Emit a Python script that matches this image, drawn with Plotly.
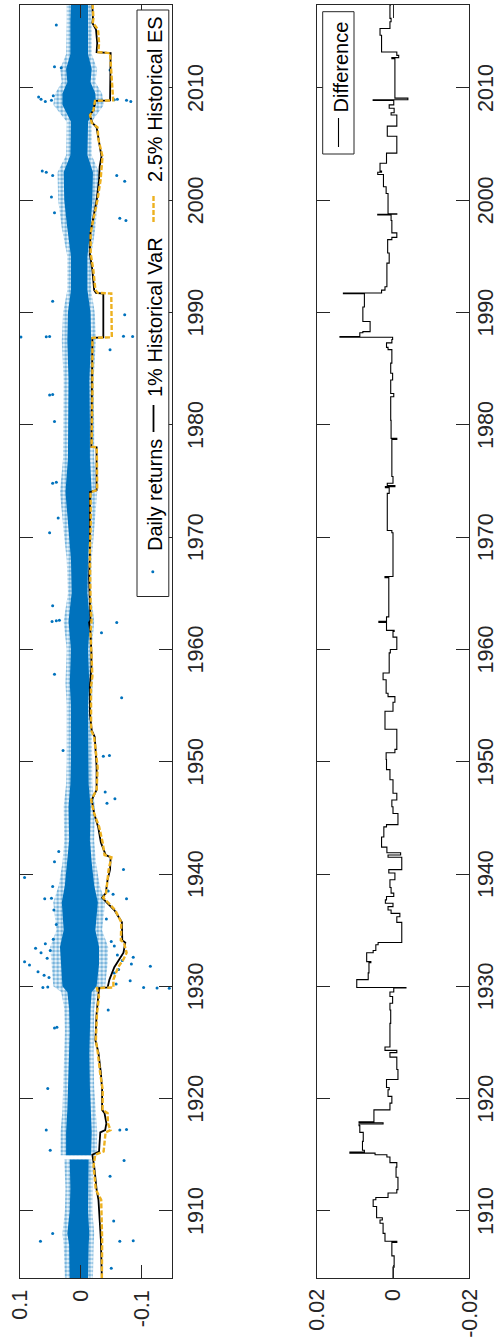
import numpy as np
import plotly.graph_objects as go

# ---------------------------------------------------------------------------
# Dow Jones daily returns, 1904-2017: body of the return cloud
# (years, upper / lower edge of the dense core and of the sparser fringe)
# ---------------------------------------------------------------------------
band_year = [1904.0, 1907.0, 1908.0, 1910.0, 1912.0, 1914.58,
             1914.95, 1917.0, 1919.0, 1921.0, 1924.0, 1926.0, 1928.0, 1929.5,
             1930.0, 1932.0, 1933.5, 1935.0, 1937.5, 1939.0, 1941.0, 1943.0,
             1946.0, 1948.0, 1950.0, 1955.0, 1957.0, 1960.0, 1962.5, 1965.0,
             1968.0, 1970.5, 1974.0, 1977.0, 1980.0, 1984.0, 1987.5, 1990.0,
             1992.0, 1995.0, 1997.5, 2000.0, 2002.5, 2004.0, 2007.0, 2008.5,
             2009.5, 2010.5, 2011.7, 2013.0, 2016.0, 2017.4]
core_hi = [0.018, 0.019, 0.022, 0.018, 0.017, 0.018,
           0.024, 0.024, 0.022, 0.021, 0.020, 0.018, 0.019, 0.022,
           0.030, 0.032, 0.034, 0.028, 0.031, 0.026, 0.022, 0.019,
           0.020, 0.017, 0.016, 0.016, 0.018, 0.016, 0.020, 0.015,
           0.016, 0.020, 0.025, 0.021, 0.021, 0.020, 0.022, 0.021,
           0.016, 0.016, 0.022, 0.027, 0.028, 0.017, 0.016, 0.030,
           0.030, 0.022, 0.024, 0.017, 0.017, 0.016]
core_lo = [-0.012, -0.013, -0.014, -0.012, -0.012, -0.013,
           -0.017, -0.018, -0.016, -0.015, -0.014, -0.015, -0.016, -0.018,
           -0.026, -0.030, -0.030, -0.024, -0.028, -0.022, -0.018, -0.015,
           -0.016, -0.013, -0.012, -0.012, -0.014, -0.012, -0.015, -0.011,
           -0.012, -0.015, -0.018, -0.015, -0.015, -0.014, -0.017, -0.016,
           -0.011, -0.011, -0.016, -0.019, -0.020, -0.011, -0.012, -0.025,
           -0.024, -0.016, -0.018, -0.012, -0.012, -0.012]
fringe_hi = [0.026, 0.028, 0.030, 0.026, 0.025, 0.027,
             0.033, 0.033, 0.030, 0.029, 0.028, 0.026, 0.027, 0.032,
             0.045, 0.048, 0.050, 0.040, 0.045, 0.036, 0.030, 0.027,
             0.028, 0.024, 0.023, 0.023, 0.025, 0.023, 0.028, 0.021,
             0.023, 0.028, 0.034, 0.029, 0.029, 0.028, 0.031, 0.029,
             0.022, 0.022, 0.031, 0.037, 0.038, 0.024, 0.023, 0.045,
             0.042, 0.031, 0.034, 0.024, 0.023, 0.023]
fringe_lo = [-0.020, -0.021, -0.022, -0.019, -0.019, -0.020,
             -0.026, -0.027, -0.024, -0.022, -0.021, -0.021, -0.022, -0.027,
             -0.040, -0.044, -0.045, -0.035, -0.040, -0.031, -0.025, -0.022,
             -0.023, -0.019, -0.018, -0.018, -0.020, -0.018, -0.022, -0.017,
             -0.018, -0.022, -0.027, -0.022, -0.022, -0.021, -0.025, -0.023,
             -0.017, -0.017, -0.024, -0.028, -0.030, -0.018, -0.018, -0.038,
             -0.035, -0.024, -0.027, -0.018, -0.018, -0.018]
# NYSE closure of 1914: no returns between these dates
closure = (1914.6, 1914.9)

# isolated large daily returns (year, return)
out_year = [2015.6, 2011.9, 2011.8, 2009.2, 2009.0, 2008.9, 2008.9, 2008.8,
            2011.6, 2002.5, 2002.6, 2002.2, 2001.7, 2002.2, 2000.3, 1998.2,
            1998.4, 1998.9, 1991.0, 1989.8, 1987.85, 1987.87, 1987.83, 1987.9,
            1987.88, 1986.7, 1982.7, 1982.65, 1980.3, 1974.8, 1974.9, 1971.7,
            1970.4, 1963.9, 1962.5, 1962.55, 1962.6, 1962.4, 1961.5, 1957.8,
            1955.7, 1951.0, 1950.5, 1950.55, 1939.7, 1940.4, 1946.7, 1946.3,
            1947.3, 1941.1, 1942.0, 1937.8, 1937.85, 1937.8, 1938.2, 1933.4,
            1933.0, 1932.2, 1931.9, 1931.3, 1932.6, 1932.0, 1931.8, 1930.5,
            1929.9, 1929.85, 1929.83, 1929.9, 1929.95, 1926.3, 1926.35, 1927.9,
            1920.9, 1917.2, 1917.25, 1917.2, 1915.4, 1914.5, 1913.1, 1909.1,
            1907.3, 1908.0, 1907.3, 1907.35, 1904.9,
            1931.0, 1931.5, 1932.5, 1932.8, 1933.2, 1933.6, 1930.8, 1934.2,
            1934.0, 1932.3, 1931.2, 1930.2, 1933.8, 1935.5, 1936.0, 1936.8,
            1938.5, 1938.9, 2008.8, 2009.0, 2008.95, 2009.3]
out_ret = [0.040, 0.043, 0.032, 0.069, 0.065, 0.048, -0.075, -0.082,
           -0.048, 0.0565, 0.063, 0.046, -0.072, -0.059, 0.048, -0.074,
           -0.064, 0.043, 0.046, -0.072, 0.0565, 0.051, 0.098, -0.070,
           -0.085, -0.048, 0.046, 0.051, 0.043, 0.046, 0.040, 0.037,
           0.051, 0.046, 0.047, 0.040, 0.035, -0.059, -0.034, 0.043,
           -0.067, 0.029, -0.037, -0.047, 0.092, -0.070, -0.056, -0.043,
           -0.040, 0.043, 0.036, 0.059, 0.048, -0.075, -0.053, 0.074,
           0.065, 0.092, 0.084, 0.070, -0.086, -0.083, -0.114, -0.081,
           -0.103, -0.125, -0.145, 0.062, 0.054, 0.043, 0.039, -0.045,
           0.054, -0.064, -0.075, 0.0565, 0.050, -0.071, -0.048, -0.054,
           0.066, 0.046, -0.064, -0.086, -0.050,
           0.060, -0.062, 0.055, -0.060, 0.050, -0.055, 0.052, 0.045,
           -0.050, -0.068, -0.055, -0.058, 0.058, 0.040, -0.042, 0.044,
           -0.045, 0.046, 0.058, -0.060, -0.055, 0.045]

# 1% historical VaR (rolling window)
var_year = [1904.0, 1907.4, 1911.0, 1911.9, 1914.0, 1915.0, 1915.3, 1917.0,
            1917.2, 1917.8, 1918.7, 1919.0, 1920.8, 1922.3, 1924.1, 1925.2,
            1927.6, 1929.1, 1929.85, 1929.9, 1930.6, 1931.7, 1932.4, 1933.0,
            1933.9, 1934.1, 1935.7, 1936.5, 1936.8, 1937.4, 1937.9, 1938.3,
            1939.5, 1940.4, 1941.5, 1941.7, 1942.8, 1944.2, 1945.4, 1946.6,
            1946.9, 1947.5, 1949.5, 1950.8, 1952.2, 1952.8, 1954.3, 1956.7,
            1957.6, 1958.4, 1959.7, 1961.5, 1962.4, 1962.6, 1964.1, 1966.4,
            1968.6, 1971.5, 1974.0, 1974.2, 1978.0, 1978.05, 1983.0, 1987.75,
            1987.8, 1991.7, 1991.75, 1992.0, 1993.8, 1995.3, 1997.1, 1998.5,
            2000.0, 2001.8, 2003.0, 2003.9, 2005.4, 2006.5, 2006.9, 2007.6,
            2008.0, 2008.85, 2008.9, 2013.1, 2013.2, 2014.0, 2015.2, 2015.8,
            2016.2, 2017.4]
var_val = [-0.0346, -0.033, -0.029, -0.026, -0.022, -0.019, -0.030, -0.032,
           -0.040, -0.042, -0.039, -0.035, -0.035, -0.033, -0.029, -0.024,
           -0.026, -0.029, -0.030, -0.044, -0.047, -0.055, -0.063, -0.070,
           -0.073, -0.068, -0.0675, -0.058, -0.055, -0.044, -0.035, -0.041,
           -0.044, -0.048, -0.049, -0.041, -0.033, -0.0285, -0.022, -0.018,
           -0.021, -0.026, -0.026, -0.025, -0.023, -0.018, -0.015, -0.015,
           -0.0165, -0.0175, -0.0175, -0.016, -0.0137, -0.016, -0.015, -0.0137,
           -0.015, -0.015, -0.015, -0.026, -0.026, -0.0175, -0.0185, -0.019,
           -0.037, -0.037, -0.025, -0.022, -0.019, -0.0148, -0.016, -0.021,
           -0.026, -0.030, -0.031, -0.034, -0.030, -0.026, -0.019, -0.0148,
           -0.021, -0.0236, -0.048, -0.049, -0.026, -0.027, -0.025, -0.019,
           -0.020, -0.019]

# VaR minus ES (step series: each value holds until the next date)
diff_year = [1904.0, 1905.0, 1906.0, 1907.2, 1907.3, 1908.0, 1908.9, 1909.2,
             1909.4, 1910.4, 1911.0, 1911.2, 1911.6, 1911.9, 1913.0, 1913.9,
             1914.3, 1914.8, 1915.0, 1915.15, 1915.25, 1915.4, 1916.2, 1917.0,
             1917.6, 1917.75, 1917.85, 1917.95, 1919.0, 1919.6, 1920.2, 1920.8,
             1921.0, 1921.7, 1922.6, 1923.7, 1924.1, 1924.3, 1924.6, 1926.7,
             1927.9, 1928.5, 1929.1, 1929.5, 1929.85, 1929.9, 1930.6, 1931.2,
             1932.1, 1932.2, 1933.0, 1933.2, 1933.7, 1933.9, 1935.7, 1936.2,
             1936.5, 1936.8, 1937.1, 1937.4, 1937.7, 1938.0, 1938.3, 1938.8,
             1939.5, 1940.1, 1940.4, 1941.5, 1941.7, 1941.9, 1942.4, 1943.3,
             1944.2, 1944.4, 1945.4, 1946.0, 1946.6, 1947.2, 1948.4, 1949.3,
             1950.2, 1950.8, 1951.1, 1952.9, 1954.5, 1955.3, 1955.8, 1956.1,
             1957.3, 1957.9, 1959.7, 1960.0, 1961.1, 1961.6, 1961.7, 1962.4,
             1962.5, 1962.9, 1966.4, 1966.5, 1970.4, 1970.6, 1973.9, 1974.4,
             1974.5, 1974.6, 1974.8, 1975.4, 1978.7, 1978.8, 1980.4, 1982.5,
             1982.8, 1984.0, 1984.6, 1985.5, 1986.7, 1986.9, 1987.3, 1987.6,
             1987.8, 1987.86, 1988.2, 1988.3, 1989.2, 1990.5, 1991.68, 1991.75,
             1992.0, 1992.3, 1994.4, 1995.3, 1996.5, 1996.7, 1997.1, 1998.2,
             1998.7, 1998.75, 1998.8, 2000.6, 2001.2, 2002.3, 2002.5, 2002.6,
             2003.3, 2004.2, 2005.7, 2006.6, 2007.6, 2007.8, 2008.2, 2008.5,
             2008.88, 2008.95, 2009.1, 2012.6, 2012.7, 2012.9, 2013.2, 2014.7,
             2015.3, 2015.9, 2016.2, 2017.4]
diff_val = [0.0000, -0.0003, 0.0003, -0.0010, 0.0021, 0.0026, 0.0034, 0.0028,
            0.0043, 0.0052, 0.0045, 0.0013, -0.0010, -0.0013, -0.0008, -0.0010,
            0.0008, 0.0016, 0.0047, 0.0113, 0.0075, 0.0080, 0.0078, 0.0087,
            0.0089, 0.0026, 0.0089, 0.0050, 0.0008, 0.0003, 0.0013, 0.0010,
            0.0017, -0.0013, -0.0010, 0.0008, -0.0010, 0.0021, 0.0008, 0.0006,
            0.0008, 0.0001, 0.0008, -0.0002, -0.0034, 0.0095, 0.0065, 0.0063,
            0.0058, 0.0069, 0.0052, 0.0045, 0.0039, -0.0023, -0.0010, -0.0018,
            0.0005, 0.0013, 0.0000, 0.0020, 0.0017, -0.0002, 0.0005, 0.0008,
            -0.0005, 0.0011, -0.0023, 0.0013, -0.0020, 0.0016, 0.0030, 0.0024,
            0.0017, -0.0013, 0.0000, 0.0003, -0.0010, 0.0000, 0.0008, 0.0017,
            0.0018, -0.0005, -0.0010, 0.0021, 0.0000, -0.0005, 0.0013, 0.0018,
            0.0026, 0.0010, 0.0007, -0.0010, 0.0000, -0.0003, 0.0017, 0.0037,
            0.0017, 0.0011, 0.0021, 0.0000, 0.0003, 0.0015, 0.0010, 0.0020,
            -0.0005, 0.0015, 0.0000, 0.0003, -0.0010, 0.0005, 0.0006, -0.0002,
            0.0006, 0.0001, 0.0006, 0.0003, 0.0013, 0.0017, 0.0003, 0.0001,
            0.0139, 0.0087, 0.0079, 0.0060, 0.0079, 0.0075, 0.0130, 0.0030,
            0.0021, 0.0016, 0.0010, 0.0014, 0.0003, -0.0010, 0.0003, 0.0005,
            0.0040, -0.0010, 0.0013, 0.0018, 0.0025, 0.0040, 0.0030, 0.0034,
            0.0017, -0.0010, 0.0015, -0.0010, 0.0005, -0.0003, 0.0010, -0.0002,
            0.0052, -0.0039, -0.0005, 0.0003, -0.0015, -0.0010, 0.0030, 0.0034,
            0.0008, 0.0005, 0.0008, 0.0005]

# axis ticks
year_ticks = [1910, 1920, 1930, 1940, 1950, 1960, 1970, 1980, 1990, 2000, 2010]
ret_ticks = [0.1, 0, -0.1]
ret_tick_text = ["0.1", "0", "-0.1"]
diff_ticks = [0.02, 0, -0.02]
diff_tick_text = ["0.02", "0", "-0.02"]

# 2.5% historical ES = VaR minus the (step) difference at each VaR date
var_year_a = np.array(var_year)
var_val_a = np.array(var_val)
idx = np.searchsorted(np.array(diff_year), var_year_a, side="right") - 1
es_val = var_val_a - np.array(diff_val)[idx]

# ---------------------------------------------------------------------------
FONT = "Liberation Sans, Arial, Helvetica, sans-serif"
BLUE = "#0072BD"
ORANGE = "#EDB120"
AXC = "#262626"
W, H = 500, 1339


def px(x):
    return x / W


def py(y):
    return 1 - y / H


fig = go.Figure()


def band_trace(years, hi, lo, **style):
    """Closed polygon between the upper and lower edge, split at the closure."""
    years = np.array(years)
    hi = np.array(hi)
    lo = np.array(lo)
    xs, ys = [], []
    for mask in (years <= closure[0], years >= closure[1]):
        y = years[mask]
        xs += list(hi[mask]) + list(lo[mask][::-1]) + [hi[mask][0], None]
        ys += list(y) + list(y[::-1]) + [y[0], None]
    return go.Scatter(x=xs, y=ys, mode="lines", fill="toself",
                      line=dict(width=0), hoverinfo="skip",
                      showlegend=False, xaxis="x", yaxis="y", **style)


# sparse fringe of the cloud: speckled with small dots
fig.add_trace(band_trace(band_year, fringe_hi, fringe_lo,
                         fillcolor="rgba(0,114,189,0.06)",
                         fillpattern=dict(shape=".", fgcolor=BLUE,
                                          size=4, solidity=0.55,
                                          fillmode="overlay")))
# dense core of the cloud
fig.add_trace(band_trace(band_year, core_hi, core_lo, fillcolor=BLUE))
fig.add_trace(go.Scatter(x=out_ret, y=out_year, mode="markers",
                         marker=dict(color=BLUE, size=3, line=dict(width=0)),
                         showlegend=False, xaxis="x", yaxis="y"))
fig.add_trace(go.Scatter(x=var_val, y=var_year, mode="lines",
                         line=dict(color="black", width=1.8),
                         showlegend=False, xaxis="x", yaxis="y"))
fig.add_trace(go.Scatter(x=es_val, y=var_year, mode="lines",
                         line=dict(color=ORANGE, width=2.4, dash="5px,2px"),
                         showlegend=False, xaxis="x", yaxis="y"))
fig.add_trace(go.Scatter(x=diff_val, y=diff_year, mode="lines",
                         line=dict(color="black", width=1.1, shape="vh"),
                         showlegend=False, xaxis="x2", yaxis="y2"))

year_range = [1904.03, 2017.39]
ydom = [py(1278), py(5)]

common = dict(showline=True, linecolor=AXC, linewidth=1, mirror="ticks",
              ticks="inside", ticklen=13, tickwidth=1, tickcolor=AXC,
              showgrid=False, zeroline=False, showticklabels=False)

fig.update_layout(
    width=W, height=H, margin=dict(l=0, r=0, t=0, b=0),
    paper_bgcolor="white", plot_bgcolor="white", showlegend=False,
    xaxis=dict(domain=[px(19.7), px(172.3)], range=[0.1, -0.15], anchor="y",
               tickvals=ret_ticks, **common),
    yaxis=dict(domain=ydom, range=year_range, anchor="x", side="right",
               tickvals=year_ticks, **common),
    xaxis2=dict(domain=[px(316.7), px(469.3)], range=[0.02, -0.02],
                anchor="y2", tickvals=diff_ticks, **common),
    yaxis2=dict(domain=ydom, range=year_range, anchor="x2", side="right",
                tickvals=year_ticks, **common),
)

# rotated tick labels (reading upward)
tick_font = dict(family=FONT, size=21.5, color=AXC)
annotations = []
for v, t in zip(ret_ticks, ret_tick_text):
    annotations.append(dict(text=t, x=v, xref="x", y=py(1288), yref="paper",
                            xanchor="center", yanchor="top"))
for v, t in zip(diff_ticks, diff_tick_text):
    annotations.append(dict(text=t, x=v, xref="x2", y=py(1287), yref="paper",
                            xanchor="center", yanchor="top"))
for yr in year_ticks:
    annotations.append(dict(text=str(yr), x=px(196), xref="paper", y=yr,
                            yref="y", xanchor="center", yanchor="middle"))
    annotations.append(dict(text=str(yr), x=px(500), xref="paper", y=yr,
                            yref="y2", xanchor="right", yanchor="middle"))
for a in annotations:
    a.update(textangle=-90, showarrow=False, font=tick_font)

# legend of the upper panel (drawn rotated, reading upward)
shapes = [
    dict(type="rect", xref="paper", yref="paper", x0=px(137), x1=px(168.8),
         y0=py(596.5), y1=py(10), line=dict(color=AXC, width=1),
         fillcolor="white", layer="above"),
    dict(type="circle", xref="paper", yref="paper", x0=px(151.3), x1=px(154.3),
         y0=py(573.2), y1=py(570.2), line=dict(width=0), fillcolor=BLUE,
         layer="above"),
    dict(type="line", xref="paper", yref="paper", x0=px(153.5), x1=px(153.5),
         y0=py(432), y1=py(405), line=dict(color="black", width=1.8),
         layer="above"),
    dict(type="line", xref="paper", yref="paper", x0=px(153.5), x1=px(153.5),
         y0=py(222), y1=py(196), line=dict(color=ORANGE, width=2.4,
                                           dash="5px,2px"),
         layer="above"),
    # legend of the lower panel
    dict(type="rect", xref="paper", yref="paper", x0=px(322.7), x1=px(354),
         y0=py(154), y1=py(11.7), line=dict(color=AXC, width=1),
         fillcolor="white", layer="above"),
    dict(type="line", xref="paper", yref="paper", x0=px(338.5), x1=px(338.5),
         y0=py(147), y1=py(118), line=dict(color="black", width=1.1),
         layer="above"),
]

legend_font = dict(family=FONT, size=20, color="black")
legend_items = [
    dict(text="Daily returns", x=px(155), y=py(553)),
    dict(text="1% Historical VaR", x=px(155), y=py(399)),
    dict(text="2.5% Historical ES", x=px(155), y=py(184)),
    dict(text="Difference", x=px(340), y=py(115)),
]
for a in legend_items:
    a.update(xref="paper", yref="paper", xanchor="center", yanchor="bottom",
             textangle=-90, showarrow=False, font=legend_font)

fig.update_layout(shapes=shapes, annotations=annotations + legend_items)

fig.write_html("out.html")
